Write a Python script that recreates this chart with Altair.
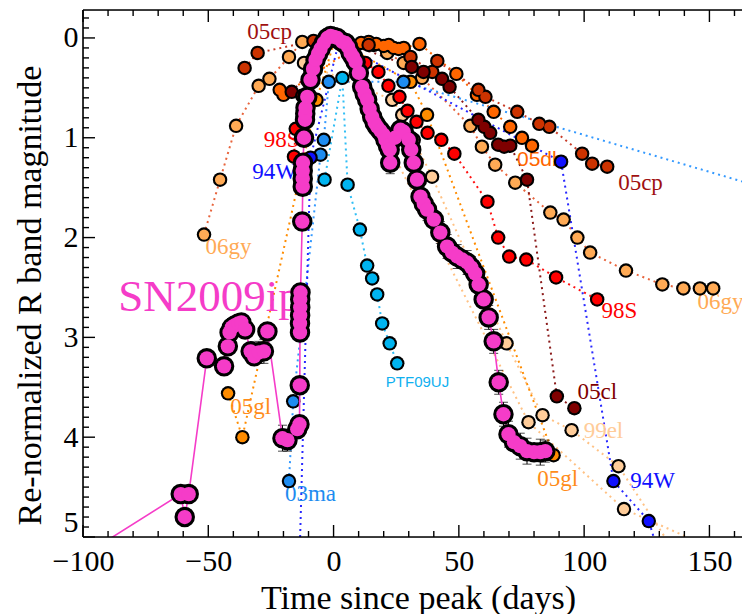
import altair as alt
import pandas as pd

# ---------------- data ----------------
SN09IP_T = [-104, -61.0, -59.4, -57.8, -50.6, -43.7, -42.2, -41.5, -40.6, -39.5, -38.0, -36.8, -35.3,
            -33.1, -31.7, -29.8, -27.8, -26.4, -20.4, -18.4, -14.5, -13.6, -13.5, -13.4, -13.4, -13.35,
            -13.3, -13.3, -13.2, -12.5, -12.3, -12.3, -12.3, -12.2, -11.8, -11.4, -11.3, -11.2, -10.5,
            -9.2, -8.2, -7.2, -6.2, -5.2, -3.9, -2.5, -1.2, 0.2, 1.5, 3.5, 4.8, 5.8, 6.8, 7.8, 8.8,
            10.1, 11.4, 12.4, 13.4, 14.4, 15.4, 16.4, 17.4, 18.7, 20.0, 20.7, 21.7, 22.4, 22.6, 24.5,
            26.7, 28.0, 30.0, 31.0, 32.0, 33.3, 34.7, 36.0, 37.3, 40.0, 42.6, 45.3, 47.3, 49.3, 51.3,
            53.3, 55.0, 56.5, 57.9, 59.9, 61.9, 63.9, 65.9, 67.8, 69.8, 72.0, 74.5, 77.2, 80.0, 82.5, 84.5]
SN09IP_M = [5.25, 4.57, 4.80, 4.57, 3.21, 3.29, 3.09, 2.95, 2.90, 2.88, 2.86, 2.85, 2.92,
            3.14, 3.19, 3.15, 3.14, 2.94, 4.01, 4.03, 3.92, 3.87, 3.48, 2.95, 2.86, 2.78,
            2.70, 2.62, 2.55, 1.84, 1.49, 1.41, 1.33, 1.25, 1.00, 0.82, 0.76, 0.70, 0.59,
            0.42, 0.31, 0.22, 0.16, 0.11, 0.05, 0.00, -0.02, -0.01, 0.00, 0.04, 0.05, 0.09, 0.15, 0.19, 0.24,
            0.35, 0.49, 0.56, 0.62, 0.71, 0.79, 0.85, 0.89, 0.93, 0.97, 1.02, 1.08, 1.12, 1.25, 1.00,
            0.92, 0.94, 1.02, 1.12, 1.25, 1.42, 1.59, 1.66, 1.72, 1.82, 1.95, 2.09, 2.15, 2.19, 2.22,
            2.25, 2.30, 2.36, 2.47, 2.62, 2.80, 3.04, 3.45, 3.77, 3.97, 4.05, 4.09, 4.14, 4.15, 4.15, 4.14]

ERR_T = [-29.8, -27.8, -20.4, -18.4, 22.6, 33.3, 37.3, 42.6, 45.3, 49.3, 53.3, 55.0, 57.9,
         61.9, 63.9, 65.9, 67.8, 69.8, 74.5, 77.2, 82.5, 84.5]
ERR_M = [3.15, 3.14, 4.01, 4.03, 1.25, 1.42, 1.72, 1.95, 2.09, 2.19, 2.25, 2.30, 2.47,
         2.80, 3.04, 3.45, 3.77, 3.97, 4.09, 4.14, 4.15, 4.14]
ERR_E = [0.11, 0.12, 0.13, 0.11, 0.11, 0.11, 0.11, 0.11, 0.12, 0.12, 0.12, 0.11, 0.11,
         0.12, 0.12, 0.12, 0.12, 0.13, 0.13, 0.13, 0.13, 0.11]

S05CP_T = [-35.5, -30.3, -8.0, 14.0, 30.7, 39.4, 41.4, 57.8, 60.6, 73.3, 82.1, 86.1, 99.2, 103.2, 109.2]
S05CP_M = [0.30, 0.15, 0.03, 0.07, 0.19, 0.34, 0.23, 0.52, 0.59, 0.74, 0.86, 0.89, 1.16, 1.26, 1.29]

S05CL_T = [-16.7, 2.0, 31.2, 35.9, 43.3, 46.3, 57.8, 60.2, 62.5, 65.7, 68.1, 70.5, 77.2, 89.1, 96.1]
S05CL_M = [0.54, 0.02, 0.29, 0.34, 0.41, 0.49, 0.82, 0.89, 0.95, 1.07, 1.09, 1.08, 1.42, 3.59, 3.71]

S98S_T = [-15.8, -15.1, -12.5, 0.5, 12.7, 17.9, 21.9, 26.3, 29.5, 33.1, 37.5, 43.0, 48.2, 61.4, 65.7,
          70.1, 76.9, 88.8, 105.2]
S98S_M = [1.19, 0.91, 0.58, 0.0, 0.25, 0.34, 0.48, 0.59, 0.73, 0.84, 0.95, 1.02, 1.16, 1.64, 2.00,
          2.19, 2.22, 2.40, 2.62]

S94W_T = [-14.0, -9.2, 2.0, 90.8, 111.7, 125.8, 135.0]
S94W_M = [5.6, 1.20, 0.05, 1.24, 4.44, 4.84, 5.6]

S03MA_T = [-17.8, -16.1, -5.2, -3.9, -1.9, 27.9, 185.0]
S03MA_M = [4.44, 3.64, 1.17, 1.02, 0.44, 0.44, 1.60]

SPTF_T = [-3.6, 3.5, 5.6, 10.5, 13.4, 15.4, 17.4, 19.4, 22.4, 25.4]
SPTF_M = [1.42, 0.40, 1.47, 1.92, 2.28, 2.41, 2.57, 2.86, 3.06, 3.26]

S05GL_T = [-42.1, -36.4, -6.8, 0.5, 30.7, 37.3, 87.8]
S05GL_M = [3.56, 4.00, 0.62, 0.02, 0.44, 0.77, 4.18]

S06GY_T = [-51.7, -45.3, -38.9, -29.9, -25.6, -17.8, -12.5, 16.0, 21.4, 28.0, 35.3, 54.6, 59.2,
           64.5, 72.5, 86.5, 91.8, 97.3, 102.4, 116.7, 131.2, 139.6, 146.2, 151.5]
S06GY_M = [1.97, 1.42, 0.88, 0.48, 0.41, 0.19, 0.04, 0.07, 0.15, 0.25, 0.40, 0.88, 1.09,
           1.27, 1.45, 1.75, 1.82, 2.00, 2.15, 2.33, 2.47, 2.51, 2.51, 2.51]

S99EL_T = [-11.8, 23.4, 27.4, 32.0, 39.3, 69.0, 83.4, 95.0, 113.7, 140.0]
S99EL_M = [0.25, 0.62, 0.77, 1.02, 1.39, 3.06, 3.78, 3.93, 4.29, 5.3]

SPEACH_T = [0.5, 77.8, 115.9, 150.0]
SPEACH_M = [0.0, 3.85, 4.72, 5.1]

S05DB_T = [-21.5, -20.0, 11.0, 14.0, 17.0, 20.0, 22.0, 24.0, 26.0, 28.0, 34.3, 49.0, 57.2, 63.9,
           70.5, 75.2, 79.2]
S05DB_M = [0.52, 0.57, 0.05, 0.04, 0.06, 0.08, 0.07, 0.10, 0.11, 0.10, 0.06, 0.36, 0.57, 0.74,
           0.89, 1.00, 1.08]

X_MAJOR = [-100, -50, 0, 50, 100, 150]
X_MINOR = [-90, -80, -70, -60, -40, -30, -20, -10, 10, 20, 30, 40, 60, 70, 80, 90,
           110, 120, 130, 140, 160]
Y_MAJOR = [0, 1, 2, 3, 4, 5]
Y_MINOR = [-0.2, -0.1, 0.1, 0.2, 0.3, 0.4, 0.5, 0.6, 0.7, 0.8, 0.9, 1.1, 1.2, 1.3, 1.4, 1.5, 1.6,
           1.7, 1.8, 1.9, 2.1, 2.2, 2.3, 2.4, 2.5, 2.6, 2.7, 2.8, 2.9, 3.1, 3.2, 3.3, 3.4, 3.5,
           3.6, 3.7, 3.8, 3.9, 4.1, 4.2, 4.3, 4.4, 4.5, 4.6, 4.7, 4.8, 4.9]

# ---------------- styling ----------------
W, H = 659, 527
SERIF = "Liberation Serif"
SANS = "Liberation Sans"
PINK = "#F53CC8"
xs = alt.Scale(domain=[-100, 163], nice=False, zero=False)
ys = alt.Scale(domain=[-0.28, 5.0], nice=False, zero=False, reverse=True)

AXX = alt.Axis(values=X_MAJOR, ticks=False, domain=False, grid=False, title="Time since peak (days)",
               labelFont=SERIF, labelFontSize=30, labelColor="black", labelPadding=9,
               labelFlush=False, labelOverlap=False,
               titleFont=SERIF, titleFontSize=34, titleFontWeight="normal",
               titleColor="black", titleX=335, titleY=61, titleAlign="center",
               titleBaseline="middle")
AXY = alt.Axis(values=Y_MAJOR, ticks=False, domain=False, grid=False,
               title="Re-normalized R band magnitude",
               labelFont=SERIF, labelFontSize=30, labelColor="black", labelPadding=5,
               labelFlush=True, labelOverlap=False,
               titleFont=SERIF, titleFontSize=34, titleFontWeight="normal",
               titleColor="black", titleX=-53, titleY=285, titleAngle=270,
               titleAlign="center", titleBaseline="middle")


def X(f):
    return alt.X(f, scale=xs, axis=AXX)


def Y(f):
    return alt.Y(f, scale=ys, axis=AXY)


# name, T, M, marker fill, line colour
SERIES = [
    ("06gy", S06GY_T, S06GY_M, "#FFAA55", "#E8643C"),
    ("99el", S99EL_T, S99EL_M, "#FFCC99", "#FFC285"),
    ("peach", SPEACH_T, SPEACH_M, "#FFCC99", "#FFC285"),
    ("05gl", S05GL_T, S05GL_M, "#FF8C00", "#FF8C00"),
    ("05db", S05DB_T, S05DB_M, "#FF6600", "#FF6600"),
    ("05cp", S05CP_T, S05CP_M, "#CC3300", "#C83C28"),
    ("05cl", S05CL_T, S05CL_M, "#7F0000", "#8B1A1A"),
    ("98S", S98S_T, S98S_M, "#FF0000", "#FF1010"),
    ("03ma", S03MA_T, S03MA_M, "#1E8CF0", "#3399FF"),
    ("PTF09UJ", SPTF_T, SPTF_M, "#00B4F0", "#30BEF5"),
    ("94W", S94W_T, S94W_M, "#1010FF", "#2828FF"),
]

# text, t, m, colour, size, font, align
LABELS = [
    ("05cp", -25.5, -0.06, "#A01010", 23, SERIF, "center"),
    ("98S", -20.7, 1.02, "#FF0000", 23, SERIF, "center"),
    ("94W", -23.5, 1.34, "#1010FF", 23, SERIF, "center"),
    ("06gy", -41.9, 2.09, "#FFAA55", 23, SERIF, "center"),
    ("SN2009ip", -49.5, 2.60, PINK, 45, SERIF, "center"),
    ("05gl", -33.1, 3.70, "#FF8C1A", 23, SERIF, "center"),
    ("03ma", -9.2, 4.57, "#1E8CF0", 23, SERIF, "center"),
    ("PTF09UJ", 33.5, 3.45, "#10B0F0", 15, SANS, "center"),
    ("05db", 73.2, 1.22, "#FF6600", 21, SANS, "left"),
    ("05cp", 122.5, 1.45, "#A01010", 23, SERIF, "center"),
    ("98S", 114.1, 2.74, "#FF0000", 23, SERIF, "center"),
    ("06gy", 145.2, 2.65, "#FFAA55", 23, SERIF, "left"),
    ("05cl", 105.3, 3.55, "#7F0000", 23, SERIF, "center"),
    ("99el", 107.7, 3.94, "#FFCC99", 23, SERIF, "center"),
    ("05gl", 89.4, 4.42, "#FF8C1A", 23, SERIF, "center"),
    ("94W", 127.3, 4.44, "#1010FF", 23, SERIF, "center"),
]

one = pd.DataFrame({"a": [0]})
layers = []

# comparison dotted lines
for name, T, M, fill, lc in SERIES:
    df = pd.DataFrame({"t": T, "m": M, "i": range(len(T))})
    layers.append(alt.Chart(df).mark_line(strokeDash=[2, 4], strokeWidth=2, color=lc, clip=True).encode(
        x=X("t:Q"), y=Y("m:Q"), order="i:Q"))

# labels
for txt, t, m, col, size, font, align in LABELS:
    df = pd.DataFrame({"t": [t], "m": [m], "s": [txt]})
    layers.append(alt.Chart(df).mark_text(font=font, fontSize=size, color=col, align=align,
                                           baseline="middle", clip=True).encode(
        x=X("t:Q"), y=Y("m:Q"), text="s:N"))

# comparison markers
for name, T, M, fill, lc in SERIES:
    df = pd.DataFrame({"t": T, "m": M})
    layers.append(alt.Chart(df).mark_circle(size=210, color="black", opacity=1, clip=True).encode(
        x=X("t:Q"), y=Y("m:Q")))
    layers.append(alt.Chart(df).mark_circle(size=105, color=fill, opacity=1, clip=True).encode(
        x=X("t:Q"), y=Y("m:Q")))

# SN 2009ip
ip = pd.DataFrame({"t": SN09IP_T, "m": SN09IP_M, "i": range(len(SN09IP_T))})
err = pd.DataFrame({"t": ERR_T, "m": [m - e for m, e in zip(ERR_M, ERR_E)],
                    "hi": [m + e for m, e in zip(ERR_M, ERR_E)]})
layers.append(alt.Chart(err).mark_rule(color="black", strokeWidth=1, clip=True).encode(
    x=X("t:Q"), y=Y("m:Q"), y2="hi:Q"))
layers.append(alt.Chart(err).mark_tick(color="black", thickness=1, size=9, orient="horizontal",
                                       clip=True).encode(x=X("t:Q"), y=Y("m:Q")))
layers.append(alt.Chart(err.assign(m=err["hi"])).mark_tick(color="black", thickness=1, size=9,
                                                            orient="horizontal", clip=True).encode(
    x=X("t:Q"), y=Y("m:Q")))
layers.append(alt.Chart(ip).mark_line(color=PINK, strokeWidth=1.6, clip=True).encode(
    x=X("t:Q"), y=Y("m:Q"), order="i:Q"))
layers.append(alt.Chart(ip).mark_circle(size=420, color="black", opacity=1, clip=True).encode(
    x=X("t:Q"), y=Y("m:Q")))
layers.append(alt.Chart(ip).mark_circle(size=205, color=PINK, opacity=1, clip=True).encode(
    x=X("t:Q"), y=Y("m:Q")))


# frame and inward ticks
def rule(**kw):
    return alt.Chart(one).mark_rule(color="black", strokeWidth=1.6).encode(**kw)


layers.append(rule(x=alt.value(0), x2=alt.value(W + 5), y=alt.value(0)))
layers.append(rule(x=alt.value(0), x2=alt.value(W + 5), y=alt.value(H)))
layers.append(rule(x=alt.value(0), y=alt.value(0), y2=alt.value(H)))

for vals, ln in [(X_MAJOR, 12), (X_MINOR, 6)]:
    d = pd.DataFrame({"t": vals})
    layers.append(alt.Chart(d).mark_rule(color="black", strokeWidth=1.4).encode(
        x=X("t:Q"), y=alt.value(H), y2=alt.value(H - ln)))
    layers.append(alt.Chart(d).mark_rule(color="black", strokeWidth=1.4).encode(
        x=X("t:Q"), y=alt.value(0), y2=alt.value(ln)))
for vals, ln in [(Y_MAJOR, 12), (Y_MINOR, 6)]:
    d = pd.DataFrame({"m": vals})
    layers.append(alt.Chart(d).mark_rule(color="black", strokeWidth=1.4).encode(
        y=Y("m:Q"), x=alt.value(0), x2=alt.value(ln)))

chart = alt.layer(*layers).properties(
    width=W, height=H,
    autosize=alt.AutoSizeParams(type="none"),
    padding={"left": 83, "top": 10, "right": 0, "bottom": 77},
).configure_view(stroke=None).configure(background="white")

chart.save("out.html", embed_options={"renderer": "svg", "actions": False})
